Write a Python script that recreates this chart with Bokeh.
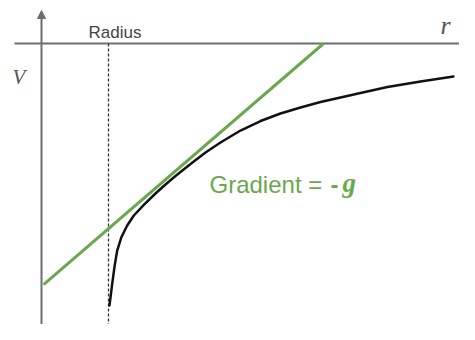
from bokeh.plotting import figure
from bokeh.models import Range1d, Label, Arrow, NormalHead
from bokeh.embed import file_html
from bokeh.resources import INLINE

# ---- data (r in units of the planet radius, V in arbitrary units) ----
r_curve = [1.015, 1.052, 1.090, 1.130, 1.190, 1.279, 1.378, 1.527, 1.701, 1.851,
           2.000, 2.224, 2.448, 2.672, 2.970, 3.269, 3.567, 3.866, 4.164, 4.463,
           4.761, 5.164, 5.657, 6.149]
V_curve = [-3.910, -3.612, -3.328, -3.090, -2.896, -2.716, -2.567, -2.410, -2.239, -2.104,
           -1.978, -1.799, -1.627, -1.478, -1.299, -1.157, -1.045, -0.955, -0.873, -0.806,
           -0.739, -0.649, -0.567, -0.493]
r_tangent = [0.03, 4.21]
V_tangent = [-3.60, 0.0]
radius_r = 1.0

# pixel helpers for placing annotations
PX = 67.0
def rx(px):
    return (px - 41) / PX
def vy(py):
    return (43 - py) / PX

W, H = 459, 324
p = figure(width=W, height=H, output_backend="svg", toolbar_location=None,
           x_range=Range1d(rx(0), rx(W)), y_range=Range1d(vy(H), vy(0)),
           min_border=0, outline_line_color=None)
p.axis.visible = False
p.grid.visible = False
p.background_fill_color = "white"
p.border_fill_color = "white"

axis_col = "#6e6e6e"
# horizontal r axis
p.segment(x0=[rx(14)], y0=[0], x1=[rx(480)], y1=[0], line_color=axis_col, line_width=2)
# vertical V axis with arrow
p.add_layout(Arrow(x_start=0, y_start=vy(345), x_end=0, y_end=vy(10),
                   line_color=axis_col, line_width=2,
                   end=NormalHead(size=8, fill_color=axis_col, line_color=axis_col, line_width=1)))
# dashed radius line
p.segment(x0=[radius_r], y0=[0], x1=[radius_r], y1=[vy(345)], line_color="#333333",
          line_width=1.3, line_dash="3 2")

# potential curve
p.line(r_curve, V_curve, line_color="#111111", line_width=2.5, line_join="round", line_cap="round")
# tangent
green = "#6aa84f"
p.line(r_tangent, V_tangent, line_color=green, line_width=3)

def lab(px, py, text, font, size, style="normal", color="#444444", align="left"):
    # Bokeh places alphabetic-baseline labels a little low; compensate
    dy = 0.27 * size
    p.add_layout(Label(x=rx(px), y=vy(py - dy), text=text, text_align=align,
                       text_baseline="alphabetic", text_font=font,
                       text_font_style=style, text_font_size=f"{size}px",
                       text_color=color))

lab(114.5, 37, "Radius", "Liberation Sans", 17, color="#444444", align="center")
lab(12, 82, "V", "Liberation Serif", 21, style="italic", color="#555555")
lab(440, 32, "r", "Liberation Serif", 26, style="italic", color="#555555")
lab(209, 190, "Gradient =", "Liberation Sans", 24, color=green)
lab(330, 190, "-", "Liberation Sans", 24, style="bold", color=green)
lab(342, 190, "g", "Liberation Serif", 27, style="bold italic", color=green)

open("out.html", "w").write(file_html(p, INLINE))
